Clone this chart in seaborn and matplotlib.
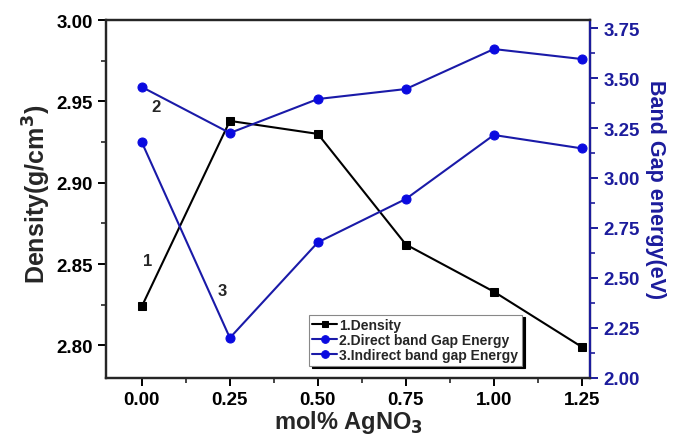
import matplotlib
matplotlib.use("Agg")
import matplotlib.pyplot as plt
from matplotlib.ticker import MultipleLocator, FormatStrFormatter
import seaborn as sns
import pandas as pd

# Data
mol_agno3 = [0.00, 0.25, 0.50, 0.75, 1.00, 1.25]
density = [2.824, 2.938, 2.930, 2.862, 2.833, 2.799]
direct_gap = [3.455, 3.225, 3.395, 3.445, 3.645, 3.595]
indirect_gap = [3.178, 2.200, 2.678, 2.895, 3.215, 3.148]
series_names = ["1.Density", "2.Direct band Gap Energy", "3.Indirect band gap Energy"]

sns.set_theme(style="ticks")
plt.rcParams["font.family"] = ["Liberation Sans", "DejaVu Sans"]
plt.rcParams["font.weight"] = "bold"

df = pd.DataFrame({"x": mol_agno3, "density": density,
                   "direct": direct_gap, "indirect": indirect_gap})

blue_line = "#1a1aa8"
blue_mark = "#0a0ae0"
navy = "#1c1c9c"

fig = plt.figure(figsize=(6.75, 4.39), dpi=100)
ax = fig.add_axes([0.157, 0.137, 0.717, 0.815])
ax2 = ax.twinx()

sns.lineplot(data=df, x="x", y="density", ax=ax, color="black", marker="s",
             markersize=5.5, markeredgecolor="black", linewidth=1.5, label=series_names[0],
             legend=False)
sns.lineplot(data=df, x="x", y="direct", ax=ax2, color=blue_line, marker="o",
             markersize=6.5, markerfacecolor=blue_mark, markeredgecolor=blue_mark,
             linewidth=1.5, label=series_names[1], legend=False)
sns.lineplot(data=df, x="x", y="indirect", ax=ax2, color=blue_line, marker="o",
             markersize=6.5, markerfacecolor=blue_mark, markeredgecolor=blue_mark,
             linewidth=1.5, label=series_names[2], legend=False)

ax.set_xlim(-0.102, 1.273)
ax.set_ylim(2.78, 3.00)
ax2.set_ylim(2.00, 3.79)

ax.xaxis.set_major_locator(MultipleLocator(0.25))
ax.xaxis.set_minor_locator(MultipleLocator(0.125))
ax.xaxis.set_major_formatter(FormatStrFormatter("%.2f"))
ax.yaxis.set_major_locator(MultipleLocator(0.05))
ax.yaxis.set_minor_locator(MultipleLocator(0.025))
ax.yaxis.set_major_formatter(FormatStrFormatter("%.2f"))
ax2.yaxis.set_major_locator(MultipleLocator(0.25))
ax2.yaxis.set_minor_locator(MultipleLocator(0.125))
ax2.yaxis.set_major_formatter(FormatStrFormatter("%.2f"))

for a in (ax, ax2):
    for s in a.spines.values():
        s.set_linewidth(1.6)
ax2.spines["right"].set_color(navy)

ax.tick_params(axis="both", which="major", direction="out", length=6, width=1.4,
               labelsize=13.5, colors="black")
ax.tick_params(axis="both", which="minor", direction="out", length=3.5, width=1.2)
ax2.tick_params(axis="y", which="major", direction="out", length=6, width=1.4,
                labelsize=13.5, colors=navy)
ax2.tick_params(axis="y", which="minor", direction="out", length=3.5, width=1.2,
                colors=navy)
for lbl in ax.get_xticklabels() + ax.get_yticklabels() + ax2.get_yticklabels():
    lbl.set_fontweight("bold")

ax.set_xlabel("mol% AgNO$_\\mathbf{3}$", fontsize=17, fontweight="bold", labelpad=0)
ax.set_ylabel("Density(g/cm$^\\mathbf{3}$)", fontsize=18, fontweight="bold", labelpad=4)
ax2.set_ylabel("Band Gap energy(eV)", fontsize=15.5, fontweight="bold", color=navy,
               rotation=-90, labelpad=20)
ax.yaxis.set_label_coords(-0.11, 0.515)
ax2.yaxis.set_label_coords(1.158, 0.53)

# Series numbers beside the curves
ax.text(0.017, 2.852, "1", fontsize=12, fontweight="bold", ha="center", va="center")
ax2.text(0.04, 3.36, "2", fontsize=12, fontweight="bold", ha="center", va="center")
ax2.text(0.227, 2.435, "3", fontsize=12, fontweight="bold", ha="center", va="center")

h1, l1 = ax.get_legend_handles_labels()
h2, l2 = ax2.get_legend_handles_labels()
leg = ax2.legend(h1 + h2, l1 + l2, loc="upper left", bbox_to_anchor=(0.419, 0.177),
                 fontsize=10, frameon=True, fancybox=False,
                 shadow={"color": "black", "alpha": 1.0},
                 handlelength=1.8, handletextpad=0.15, borderpad=0.25,
                 labelspacing=0.08, markerscale=0.85, borderaxespad=0)
leg.get_frame().set_edgecolor("#888888")
leg.get_frame().set_linewidth(0.8)
for t in leg.get_texts():
    t.set_fontweight("bold")

fig.savefig("out.png", dpi=100)
